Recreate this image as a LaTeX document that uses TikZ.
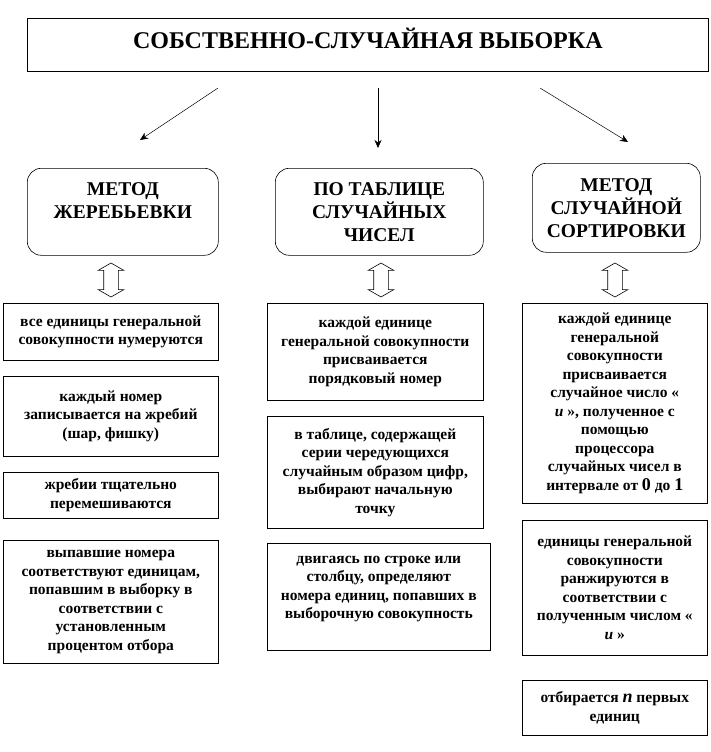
\documentclass[tikz,border=0pt]{standalone}
\usepackage{fontspec}
\setmainfont{Liberation Serif}[BoldFont={Liberation Serif Bold}]
\usetikzlibrary{arrows.meta,shapes.arrows}
\newcommand\bigdigit[1]{{\fontsize{18}{18.5}\selectfont #1}}
\begin{document}
\begin{tikzpicture}[x=1pt,y=-1pt,
  box/.style={draw,line width=0.6pt,anchor=north west,align=center,inner sep=1pt,
    font=\bfseries\fontsize{15.5}{18.5}\selectfont},
  rbox/.style={box,rounded corners=14pt,font=\bfseries\fontsize{19.5}{23}\selectfont},
  tbox/.style={box,font=\bfseries\fontsize{24}{26}\selectfont},
  conn/.style={line width=0.5pt,-{Stealth[length=8pt,width=7pt]}},
  darrow/.style={double arrow,draw,line width=0.6pt,rotate=90,minimum height=34pt,
    inner xsep=0pt,inner ysep=7pt,double arrow head extend=5.5pt,double arrow tip angle=120}]
\useasboundingbox (0,0) rectangle (710,752);
% title
\node[tbox,minimum width=681pt,minimum height=53pt] (title) at (27,18) {СОБСТВЕННО-СЛУЧАЙНАЯ ВЫБОРКА\\[-12pt]\mbox{}};
% connectors
\coordinate (a1s) at (218,88); \coordinate (a1e) at (140,140);
\coordinate (a2s) at (378,88); \coordinate (a2e) at (378,148);
\coordinate (a3s) at (540,88); \coordinate (a3e) at (628,142);
\draw[conn] (a1s) -- (a1e);
\draw[conn] (a2s) -- (a2e);
\draw[conn] (a3s) -- (a3e);
% methods
\node[rbox,minimum width=191pt,minimum height=87pt] (m1) at (27,168) {МЕТОД\\ЖЕРЕБЬЕВКИ\\\mbox{}};
\node[rbox,minimum width=208pt,minimum height=87pt] (m2) at (275,168) {ПО ТАБЛИЦЕ\\СЛУЧАЙНЫХ\\ЧИСЕЛ};
\node[rbox,minimum width=168pt,minimum height=89pt] (m3) at (532,163) {МЕТОД\\СЛУЧАЙНОЙ\\СОРТИРОВКИ};
% double arrows
\node[darrow] (d1) at (111,280) {};
\node[darrow] (d2) at (381,280) {};
\node[darrow] (d3) at (615,280) {};
% left column
\node[box,minimum width=215pt,minimum height=57pt] (l1) at (3,303) {все единицы генеральной\\совокупности нумеруются};
\node[box,minimum width=215pt,minimum height=80pt] (l2) at (3,376) {каждый номер\\записывается на жребий\\(шар, фишку)};
\node[box,minimum width=215pt,minimum height=46pt] (l3) at (3,472) {жребии тщательно\\перемешиваются};
\node[box,minimum width=215pt,minimum height=123pt] (l4) at (3,540) {выпавшие номера\\соответствуют единицам,\\попавшим в выборку в\\соответствии с\\установленным\\процентом отбора};
% middle column
\node[box,minimum width=216pt,minimum height=97pt] (c1) at (267,303) {каждой единице\\генеральной совокупности\\присваивается\\порядковый номер};
\node[box,minimum width=216pt,minimum height=112pt] (c2) at (267,416) {в таблице, содержащей\\серии чередующихся\\случайным образом цифр,\\выбирают начальную\\точку};
\node[box,minimum width=223pt,minimum height=107pt] (c3) at (267,543) {двигаясь по строке или\\столбцу, определяют\\номера единиц, попавших в\\выборочную совокупность\\\mbox{}};
% right column
\node[box,minimum width=185pt,minimum height=200pt] (r1) at (522,303) {каждой единице\\генеральной\\совокупности\\присваивается\\случайное число «\\\textit{u} », полученное с\\помощью\\процессора\\случайных чисел в\\интервале от \bigdigit{0} до \bigdigit{1}};
\node[box,minimum width=185pt,minimum height=135pt] (r2) at (522,520) {единицы генеральной\\совокупности\\ранжируются в\\соответствии с\\полученным числом «\\\textit{u} »};
\node[box,minimum width=185pt,minimum height=55pt] (r3) at (522,680) {отбирается \bigdigit{\textit{n}} первых\\единиц};
\end{tikzpicture}
\end{document}
